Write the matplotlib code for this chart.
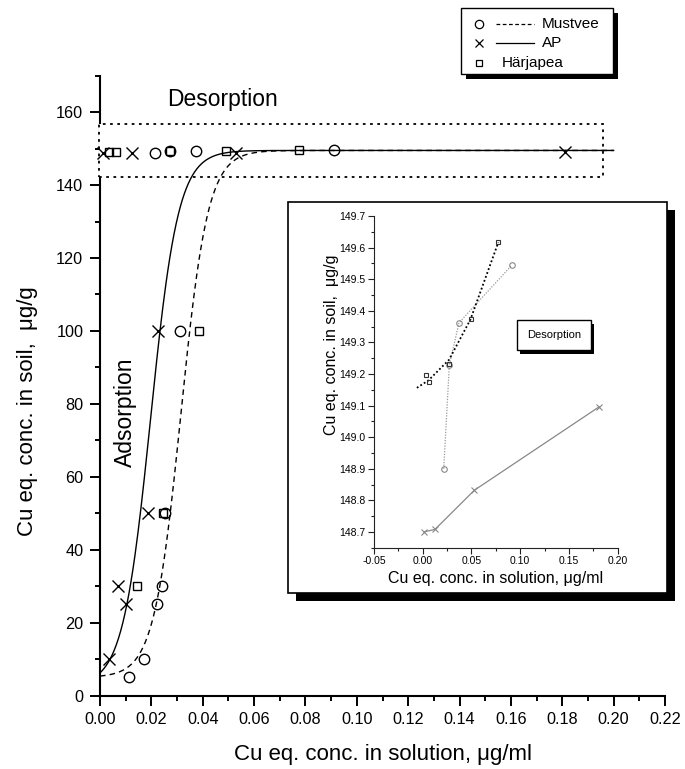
import numpy as np
import matplotlib.pyplot as plt
import matplotlib.patheffects as pe
from matplotlib.patches import Rectangle
from matplotlib.lines import Line2D
from matplotlib.ticker import MultipleLocator, FormatStrFormatter

plt.rcParams['font.family'] = ['Liberation Sans', 'DejaVu Sans']

# Mustvee (circles, dashed fit)
mustvee_ads_x = [0.0114, 0.0171, 0.0221, 0.0240, 0.0253, 0.0311]
mustvee_ads_y = [5, 10, 25, 30, 50, 100]
mustvee_des_x = [0.0215, 0.0273, 0.0372, 0.0913]
mustvee_des_y = [148.900, 149.228, 149.362, 149.544]

# AP (crosses, solid fit)
ap_ads_x = [0.0036, 0.0101, 0.0071, 0.0188, 0.0225]
ap_ads_y = [10, 25, 30, 50, 100]
ap_des_x = [0.0013, 0.0126, 0.0530, 0.1810]
ap_des_y = [148.700, 148.708, 148.832, 149.096]

# Härjapea (squares)
harj_ads_x = [0.0145, 0.0244, 0.0386]
harj_ads_y = [30, 50, 100]
harj_des_x = [0.0034, 0.0061, 0.0273, 0.0492, 0.0776]
harj_des_y = [149.198, 149.173, 149.231, 149.373, 149.617]
harj_fit_x = [-0.006, 0.006, 0.027, 0.049, 0.0776]
harj_fit_y = [149.156, 149.180, 149.245, 149.373, 149.617]

# Boltzmann fit parameters: A1, A2, x0, dx
ap_fit = (2.5, 149.5, 0.0197, 0.0054)
mustvee_fit = (5.0, 149.5, 0.0315, 0.00526)

# desorption box on the main plot
box_x = (-0.0004, 0.1958)
box_y = (142.3, 156.7)


def boltzmann(x, a1, a2, x0, dx):
    return a2 + (a1 - a2) / (1 + np.exp((x - x0) / dx))


W, H = 685, 769


def fx(px):
    return px / W


def fy(py):
    return 1 - py / H


fig = plt.figure(figsize=(W / 100, H / 100), dpi=100)

# ---------------- main plot ----------------
ax = fig.add_axes([fx(100), fy(695.6), fx(665) - fx(100), fy(75.7) - fy(695.6)])
ax.set_zorder(0)

xs = np.linspace(0, 0.2, 500)
ax.plot(xs, boltzmann(xs, *mustvee_fit), color='k', lw=1, ls=(0, (4, 3)), zorder=3)
ax.plot(xs, boltzmann(xs, *ap_fit), color='k', lw=1, zorder=3)

mk = dict(ls='none', mfc='none', mec='k', mew=1, zorder=4, clip_on=False)
ax.plot(mustvee_ads_x + mustvee_des_x, mustvee_ads_y + mustvee_des_y,
        marker='o', ms=7.5, **mk)
ax.plot(ap_ads_x + ap_des_x, ap_ads_y + ap_des_y, marker='x', ms=8, **mk)
ax.plot(harj_ads_x + harj_des_x, harj_ads_y + harj_des_y, marker='s', ms=6, **mk)

ax.add_patch(Rectangle((box_x[0], box_y[0]), box_x[1] - box_x[0], box_y[1] - box_y[0],
                       fc='white', ec='k', lw=1.3, ls=(0, (1.5, 2.5)), zorder=2.6,
                       clip_on=False))

ax.text(0.0477, 163.6, 'Desorption', fontsize=16.5, ha='center', va='center')
ax.text(0.0101, 77.6, 'Adsorption', fontsize=16.5, ha='center', va='center',
        rotation=90)

ax.set_xlim(0, 0.22)
ax.set_ylim(0, 170)
ax.set_xticks(np.round(np.arange(0, 0.2201, 0.02), 2))
ax.xaxis.set_minor_locator(MultipleLocator(0.01))
ax.yaxis.set_major_locator(MultipleLocator(20))
ax.yaxis.set_minor_locator(MultipleLocator(10))
ax.xaxis.set_major_formatter(FormatStrFormatter('%.2f'))
ax.tick_params(which='major', direction='out', length=7.5, width=1.4,
               labelsize=11.7, pad=4.5)
ax.tick_params(which='minor', direction='out', length=3.6, width=1.4)
for s in ['top', 'right']:
    ax.spines[s].set_visible(False)
for s in ['left', 'bottom']:
    ax.spines[s].set_linewidth(1.5)

ax.set_xlabel('Cu eq. conc. in solution, μg/ml', fontsize=16, va='center')
ax.xaxis.set_label_coords(0.501, (695.6 - 755) / 620)
ax.set_ylabel('Cu eq. conc. in soil,  μg/g', fontsize=16, va='center')
ax.yaxis.set_label_coords((28 - 100) / 565, (695.6 - 411) / 620)

# ---------------- inset ----------------
frame = Rectangle((fx(288), fy(593)), fx(667) - fx(288), fy(202) - fy(593),
                  transform=fig.transFigure, fc='white', ec='k', lw=1.2, zorder=5)
frame.set_path_effects([pe.SimplePatchShadow(offset=(5.5, -5.5), shadow_rgbFace='k',
                                             alpha=1), pe.Normal()])
fig.add_artist(frame)

axi = fig.add_axes([fx(374), fy(547.7), fx(617.7) - fx(374), fy(216) - fy(547.7)])
axi.set_zorder(6)
axi.set_facecolor('none')

axi.plot(mustvee_des_x, mustvee_des_y, color='#999999', lw=0.9, ls=(0, (1, 1.2)),
         marker='o', ms=4, mfc='none', mec='#888888', mew=0.8)
axi.plot(harj_fit_x, harj_fit_y, color='k', lw=1.3, ls=(0, (1, 1.3)))
axi.plot(harj_des_x, harj_des_y, ls='none', marker='s', ms=3.5, mfc='none',
         mec='#333333', mew=0.8)
axi.plot(ap_des_x, ap_des_y, color='#888888', lw=0.9, marker='x', ms=4.5,
         mec='#888888', mew=0.8)

t = axi.text(0.1345, 149.322, 'Desorption', fontsize=8, ha='center', va='center',
             bbox=dict(boxstyle='square,pad=0.9', fc='white', ec='k', lw=1))
t.get_bbox_patch().set_path_effects([pe.SimplePatchShadow(offset=(2.5, -2.5),
                                                          shadow_rgbFace='k', alpha=1),
                                     pe.Normal()])

axi.set_xlim(-0.05, 0.20)
axi.set_ylim(148.65, 149.7)
axi.set_xticks(np.round(np.arange(-0.05, 0.2001, 0.05), 2))
axi.xaxis.set_minor_locator(MultipleLocator(0.025))
axi.set_yticks(np.round(np.arange(148.7, 149.701, 0.1), 1))
axi.yaxis.set_minor_locator(MultipleLocator(0.05))
axi.xaxis.set_major_formatter(FormatStrFormatter('%.2f'))
axi.yaxis.set_major_formatter(FormatStrFormatter('%.1f'))
axi.tick_params(which='major', direction='out', length=4, width=0.8,
                labelsize=7.5, pad=2, color='#222222')
axi.tick_params(which='minor', direction='out', length=2, width=0.8, color='#222222')
for s in ['top', 'right']:
    axi.spines[s].set_visible(False)
for s in ['left', 'bottom']:
    axi.spines[s].set_linewidth(0.8)
    axi.spines[s].set_color('#222222')

axi.set_xlabel('Cu eq. conc. in solution, μg/ml', fontsize=11.5, va='center')
axi.xaxis.set_label_coords(0.5, (547.7 - 579) / 331.7)
axi.set_ylabel('Cu eq. conc. in soil,  μg/g', fontsize=11.5, va='center')
axi.yaxis.set_label_coords((332 - 374) / 243.7, (547.7 - 345) / 331.7)

# ---------------- legend ----------------
leg = Rectangle((fx(460.7), fy(74)), fx(612.7) - fx(460.7), fy(8.3) - fy(74),
                transform=fig.transFigure, fc='white', ec='k', lw=1, zorder=10)
leg.set_path_effects([pe.SimplePatchShadow(offset=(3.5, -3.5), shadow_rgbFace='k',
                                           alpha=1), pe.Normal()])
fig.add_artist(leg)

rows = [('o', (0, (3, 2)), 'Mustvee', 24.3),
        ('x', '-', 'AP', 43.3),
        ('s', None, 'Härjapea', 63.3)]
for m, ls, lab, py in rows:
    ms = 5.5 if m == 's' else 6
    if m == 's':
        ms = 4.5
    fig.add_artist(Line2D([fx(479)], [fy(py)], transform=fig.transFigure, ls='none',
                          marker=m, ms=ms, mfc='none', mec='k', mew=0.9, zorder=11))
    if ls is not None:
        fig.add_artist(Line2D([fx(496), fx(534)], [fy(py), fy(py)],
                              transform=fig.transFigure, color='k', lw=0.9, ls=ls,
                              zorder=11))
        tx = 541.7
    else:
        tx = 501.7
    fig.text(fx(tx), fy(py), lab, fontsize=11, ha='left', va='center', zorder=11)

fig.savefig('out.png', dpi=100)
